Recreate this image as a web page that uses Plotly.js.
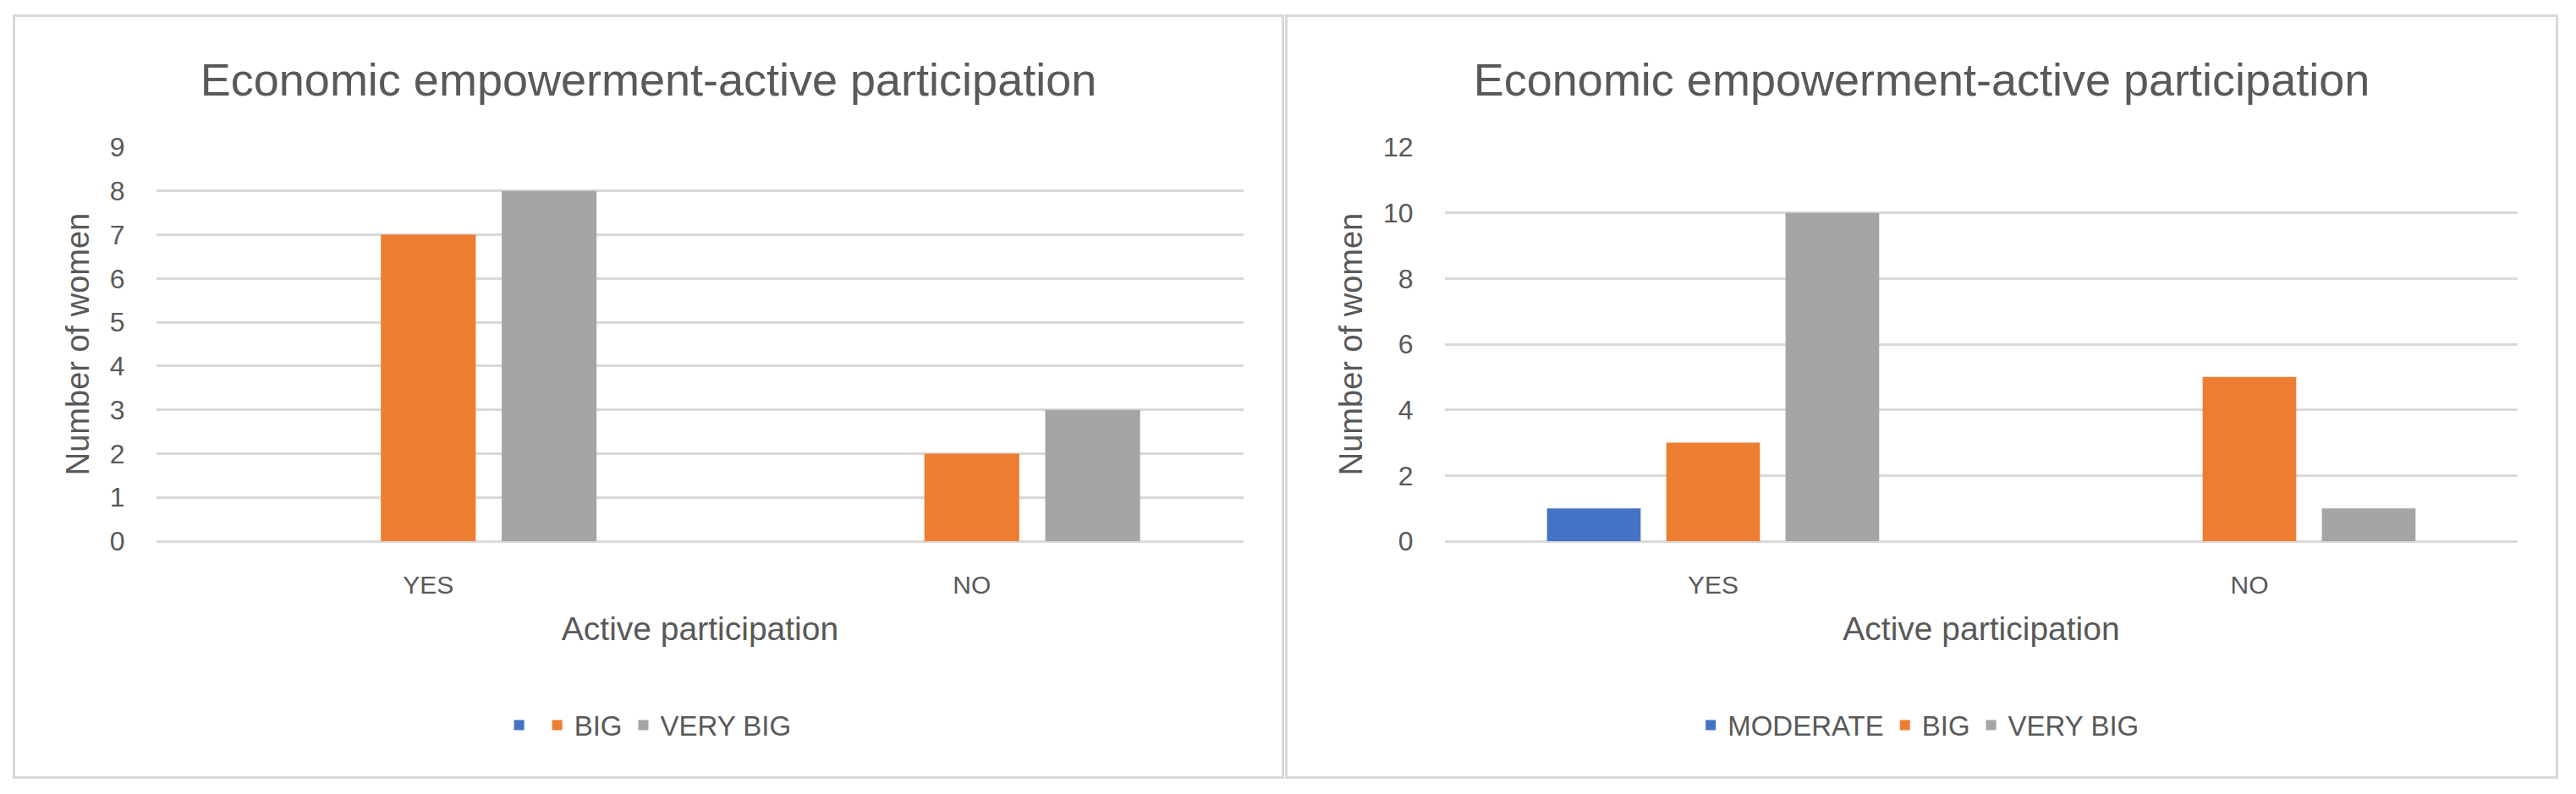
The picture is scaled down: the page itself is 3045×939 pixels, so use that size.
<!DOCTYPE html>
<html>
<head>
<meta charset="utf-8">
<script src="https://cdn.plot.ly/plotly-3.0.1.min.js"></script>
<style>
  html, body { margin: 0; padding: 0; background: #ffffff; }
  body { width: 3045px; height: 939px; position: relative; overflow: hidden; }
  .panel { position: absolute; box-sizing: border-box; border: 3px solid #d9d9d9; background: #fff; }
  #p1 { left: 15px; top: 17px; width: 1503px; height: 904px; }
  #p2 { left: 1519px; top: 17px; width: 1505px; height: 904px; }
</style>
</head>
<body>
<div id="p1" class="panel"><div id="chart1"></div></div>
<div id="p2" class="panel"><div id="chart2"></div></div>
<script>
// ---- data ----
const categories = ['YES', 'NO'];
const chartTitle = 'Economic empowerment-active participation';
const xTitle = 'Active participation';
const yTitle = 'Number of women';

// left chart (first series has no name in the reference)
const left_moderate = [0, 0];
const left_big = [7, 2];
const left_veryBig = [8, 3];

// right chart
const right_moderate = [1, 0];
const right_big = [3, 5];
const right_veryBig = [10, 1];

const seriesNamesLeft = ['', 'BIG', 'VERY BIG'];
const seriesNamesRight = ['MODERATE', 'BIG', 'VERY BIG'];

// ---- styles ----
const COLORS = ['#4472C4', '#ED7D31', '#A5A5A5'];
const TXT = '#595959';
const GRID = '#d9d9d9';
const SANS = '"Liberation Sans", Arial, sans-serif';

function makeTraces(vals, names) {
  return vals.map((v, i) => ({
    type: 'bar',
    x: categories,
    y: v,
    name: names[i],
    marker: { color: COLORS[i] },
    hoverinfo: 'none'
  }));
}

function makeLayout(w, leftMargin, yMax, dtick, legendX) {
  return {
    width: w, height: 898,
    margin: { l: leftMargin, r: 45, t: 154, b: 278 },
    paper_bgcolor: '#ffffff',
    plot_bgcolor: '#ffffff',
    showlegend: true,
    barmode: 'group',
    bargap: 0.333,
    bargroupgap: 0.215,
    title: {
      text: chartTitle,
      font: { family: SANS, size: 54, color: TXT },
      x: 0.5, xref: 'container', xanchor: 'center',
      y: 1 - 74 / 898, yref: 'container', yanchor: 'middle'
    },
    xaxis: {
      type: 'category',
      showgrid: false,
      showline: false,
      zeroline: false,
      ticks: 'outside', ticklen: 25, tickcolor: 'rgba(0,0,0,0)',
      tickfont: { family: SANS, size: 30, color: TXT },
      title: { text: xTitle, font: { family: SANS, size: 39, color: TXT }, standoff: 22 }
    },
    yaxis: {
      range: [0, yMax],
      dtick: dtick,
      tick0: 0,
      showgrid: true, gridcolor: GRID, gridwidth: 3,
      zeroline: true, zerolinecolor: GRID, zerolinewidth: 3,
      showline: false,
      ticks: 'outside', ticklen: 30, tickcolor: 'rgba(0,0,0,0)',
      tickfont: { family: SANS, size: 32, color: TXT },
      title: { text: yTitle, font: { family: SANS, size: 38, color: TXT }, standoff: 12 }
    },
    legend: {
      orientation: 'h',
      x: legendX, xanchor: 'left',
      y: -0.467, yanchor: 'middle',
      font: { family: SANS, size: 33, color: TXT },
      bgcolor: 'rgba(0,0,0,0)'
    }
  };
}

Plotly.newPlot('chart1',
  makeTraces([left_moderate, left_big, left_veryBig], seriesNamesLeft),
  makeLayout(1497, 167, 9, 1, 0.318),
  { staticPlot: true, displayModeBar: false });

Plotly.newPlot('chart2',
  makeTraces([right_moderate, right_big, right_veryBig], seriesNamesRight),
  makeLayout(1499, 186, 12, 2, 0.232),
  { staticPlot: true, displayModeBar: false });
</script>
</body>
</html>
